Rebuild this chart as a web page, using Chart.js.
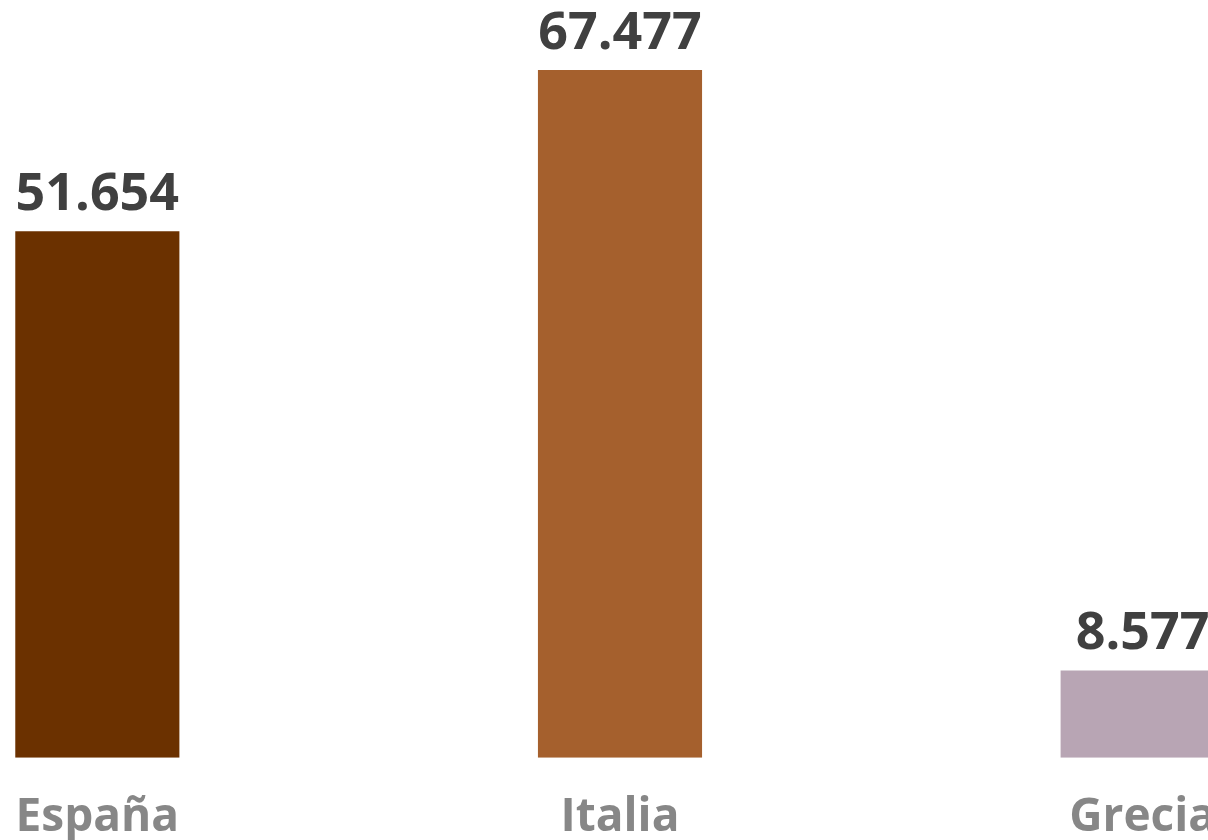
<!DOCTYPE html>
<html>
<head>
<meta charset="utf-8">
<script src="https://cdn.jsdelivr.net/npm/chart.js@4"></script>
<style>
  html, body { margin: 0; padding: 0; background: #fff; overflow: hidden; }
  #wrap { position: absolute; left: -164px; top: 0; width: 1568px; height: 852px; }
</style>
</head>
<body>
<div id="wrap"><canvas id="grafico"></canvas></div>
<script>
const paises = ['España', 'Italia', 'Grecia'];
const valores = [51654, 67477, 8577];
const colores = ['#6b3100', '#a5602d', '#b8a5b4'];

// separador de miles con punto
function formato(n) {
    return String(n).replace(/\B(?=(\d{3})+(?!\d))/g, '.');
}

const etiquetasValor = {
    id: 'etiquetasValor',
    afterDatasetsDraw(chart) {
        const ctx = chart.ctx;
        const meta = chart.getDatasetMeta(0);
        ctx.save();
        ctx.font = 'bold 52px "Open Sans", "Noto Sans", sans-serif';
        ctx.fillStyle = '#404040';
        ctx.textAlign = 'center';
        ctx.textBaseline = 'alphabetic';
        meta.data.forEach((bar, i) => {
            ctx.fillText(formato(valores[i]), bar.x, bar.y - 21);
        });
        ctx.restore();
    }
};

new Chart(document.getElementById('grafico'), {
    type: 'bar',
    data: {
        labels: paises,
        datasets: [{
            data: valores,
            backgroundColor: colores,
            categoryPercentage: 1,
            barPercentage: 0.314
        }]
    },
    options: {
        responsive: true,
        maintainAspectRatio: false,
        animation: false,
        layout: { padding: { top: 0, bottom: -25, left: 0, right: 0 } },
        plugins: { legend: { display: false }, tooltip: { enabled: false } },
        scales: {
            x: {
                grid: { display: false, drawTicks: false },
                border: { display: false },
                ticks: {
                    color: '#878787',
                    padding: 32,
                    font: { family: '"Open Sans", "Noto Sans", sans-serif', size: 46, weight: 'bold' }
                }
            },
            y: {
                display: false,
                min: 0,
                max: 74350
            }
        }
    },
    plugins: [etiquetasValor]
});
</script>
</body>
</html>
